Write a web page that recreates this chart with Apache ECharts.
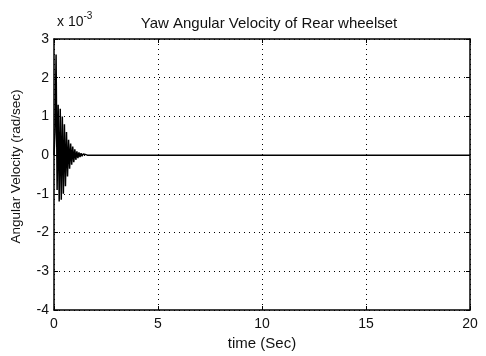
<!DOCTYPE html>
<html>
<head>
<meta charset="utf-8">
<script src="https://cdn.jsdelivr.net/npm/echarts@6/dist/echarts.min.js"></script>
<style>
html, body { margin: 0; padding: 0; background: #fff; }
#chart { width: 486px; height: 356px; }
</style>
</head>
<body>
<div id="chart"></div>
<script>
// yaw angular velocity, values in units of 1e-3 rad/sec
var timeSec = [0, 0.05, 0.1, 0.15, 0.2, 0.25, 0.3, 0.35, 0.4, 0.45, 0.5, 0.55, 0.6, 0.65, 0.7,
    0.75, 0.8, 0.85, 0.9, 0.95, 1.0, 1.05, 1.1, 1.15, 1.2, 1.25, 1.3, 1.35, 1.4, 1.45, 1.5, 1.6, 20];
var yawVel = [0, 0.6, 2.6, -0.9, 1.3, -1.2, 1.2, -1.15, 1.0, -1.0, 0.8, -0.8, 0.6, -0.55, 0.4,
    -0.35, 0.3, -0.25, 0.22, -0.18, 0.15, -0.12, 0.1, -0.08, 0.07, -0.05, 0.05, -0.03, 0.03, -0.02, 0.02, 0, 0];
var xTicks = [0, 5, 10, 15, 20];
var yTicks = [-4, -3, -2, -1, 0, 1, 2, 3];

var seriesData = [];
for (var i = 0; i < timeSec.length; i++) {
    seriesData.push([timeSec[i], yawVel[i]]);
}

var font = 'Liberation Sans, Arial, sans-serif';
var dom = document.getElementById('chart');
var chart = echarts.init(dom);

var option = {
    backgroundColor: '#fff',
    animation: false,
    title: {
        text: 'Yaw Angular Velocity of Rear wheelset',
        left: 264,
        textAlign: 'center',
        top: 11,
        textStyle: { fontFamily: font, fontSize: 15, fontWeight: 'normal', color: '#111' }
    },
    grid: { left: 54, right: 16, top: 39, bottom: 44 },
    xAxis: [{
        type: 'value',
        min: xTicks[0],
        max: xTicks[xTicks.length - 1],
        interval: 5,
        name: 'time (Sec)',
        nameLocation: 'middle',
        nameGap: 26,
        nameTextStyle: { fontFamily: font, fontSize: 15, color: '#111' },
        axisLine: { onZero: false, lineStyle: { color: '#000', width: 1.5 } },
        axisTick: { inside: true, length: 4, lineStyle: { color: '#000' } },
        axisLabel: { fontFamily: font, fontSize: 14, color: '#111', margin: 7 },
        splitLine: { show: true, lineStyle: { color: '#000', type: [1, 4], width: 1 } }
    }, {
        type: 'value',
        position: 'top',
        min: xTicks[0],
        max: xTicks[xTicks.length - 1],
        interval: 5,
        axisLine: { show: true, onZero: false, lineStyle: { color: '#000', width: 1.5 } },
        axisTick: { inside: true, length: 4, lineStyle: { color: '#000' } },
        axisLabel: { show: false },
        splitLine: { show: false }
    }],
    yAxis: [{
        type: 'value',
        min: yTicks[0],
        max: yTicks[yTicks.length - 1],
        interval: 1,
        name: 'Angular Velocity (rad/sec)',
        nameLocation: 'middle',
        nameGap: 31,
        nameTextStyle: { fontFamily: font, fontSize: 13.5, color: '#111', padding: [0, 0, 0, 16] },
        axisLine: { show: true, onZero: false, lineStyle: { color: '#000', width: 1.5 } },
        axisTick: { show: true, inside: true, length: 4, lineStyle: { color: '#000' } },
        axisLabel: { fontFamily: font, fontSize: 14, color: '#111', margin: 5 },
        splitLine: { show: true, lineStyle: { color: '#000', type: [1, 4], width: 1 } }
    }, {
        type: 'value',
        position: 'right',
        min: yTicks[0],
        max: yTicks[yTicks.length - 1],
        interval: 1,
        axisLine: { show: true, onZero: false, lineStyle: { color: '#000', width: 1.5 } },
        axisTick: { show: true, inside: true, length: 4, lineStyle: { color: '#000' } },
        axisLabel: { show: false },
        splitLine: { show: false }
    }],
    graphic: [{
        type: 'text',
        left: 57,
        top: 11,
        style: {
            text: '{b|x 10}{s|-3}',
            rich: {
                b: { fontFamily: font, fontSize: 14, fill: '#111', verticalAlign: 'bottom' },
                s: { fontFamily: font, fontSize: 10, fill: '#111', verticalAlign: 'top', padding: [0, 0, 8, 0] }
            }
        }
    }],
    series: [{
        type: 'line',
        data: seriesData,
        showSymbol: false,
        lineStyle: { color: '#000', width: 1.5 }
    }]
};
chart.setOption(option);
window.addEventListener('resize', function () {
    chart.resize();
});
</script>
</body>
</html>
